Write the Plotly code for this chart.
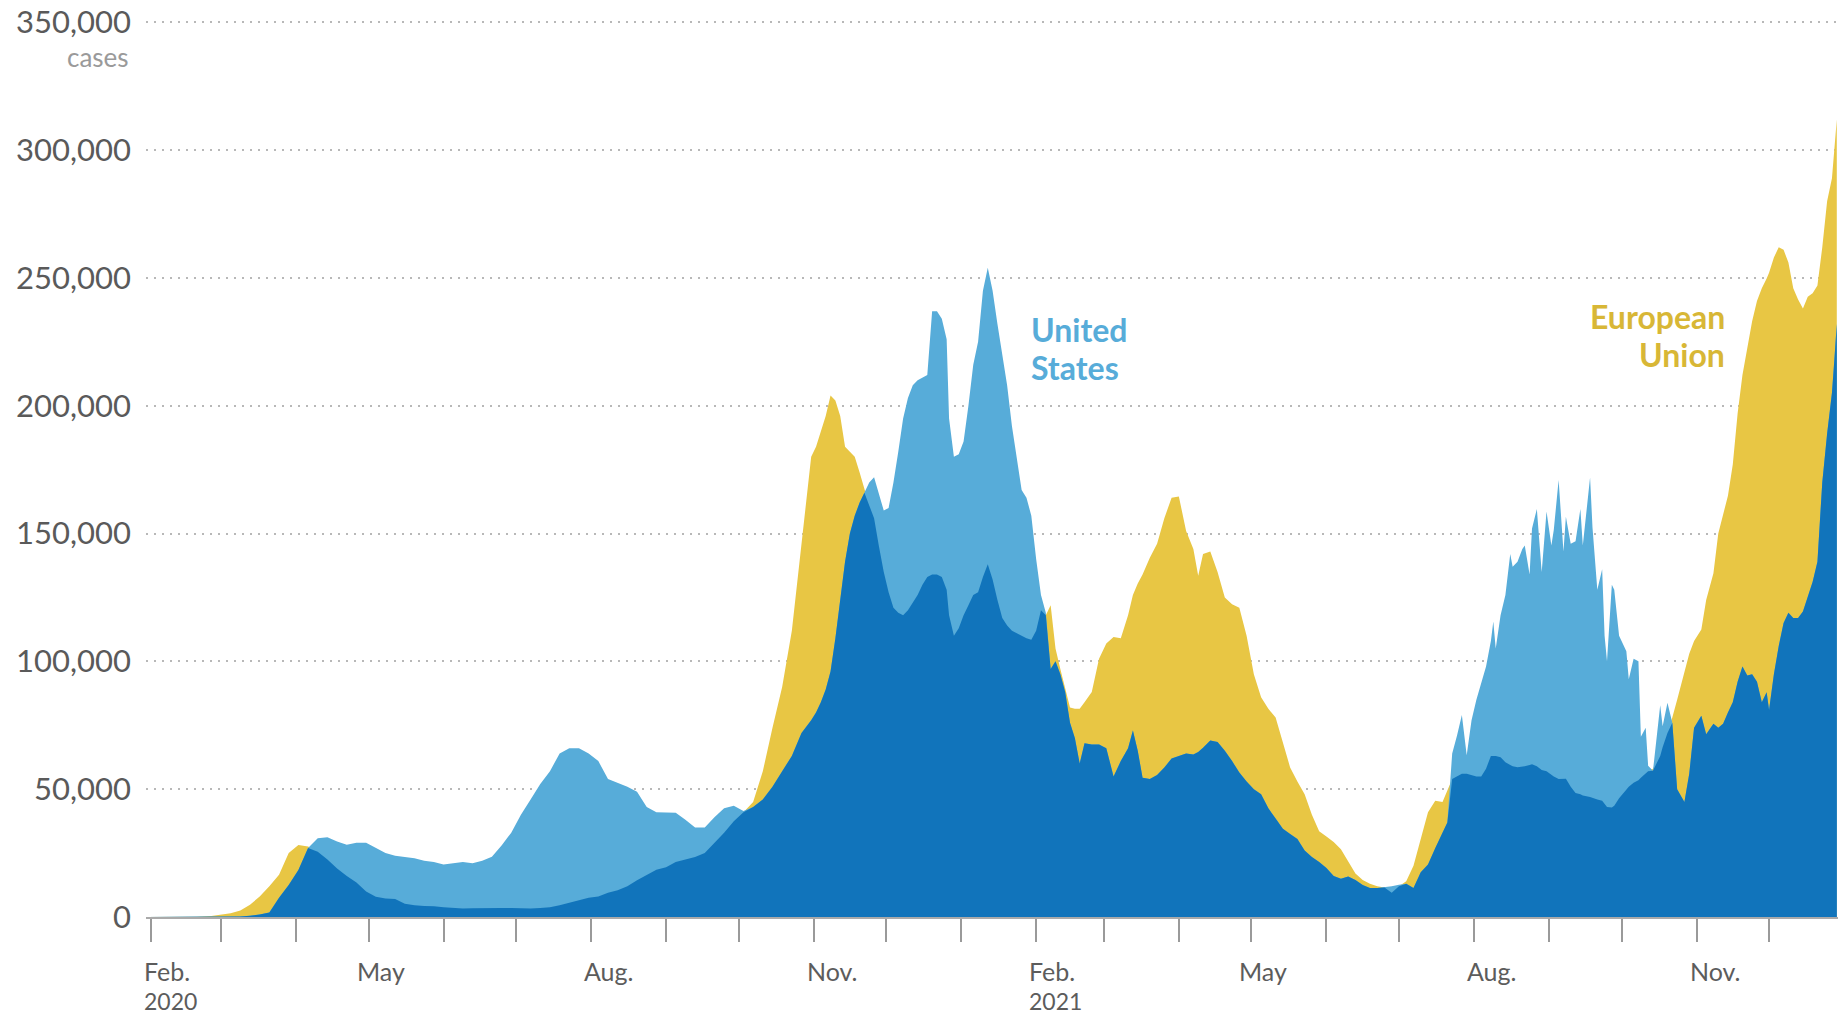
import plotly.graph_objects as go

# ---------------- data (7-day average daily new cases, thousands) ----------------
# Period A: Feb - Oct 2020
dates_a = ["2020-01-30", "2020-02-10", "2020-02-20", "2020-02-26", "2020-03-01", "2020-03-05", "2020-03-09",
           "2020-03-13", "2020-03-17", "2020-03-21", "2020-03-25", "2020-03-29", "2020-04-02", "2020-04-06",
           "2020-04-10", "2020-04-14", "2020-04-18", "2020-04-22", "2020-04-26", "2020-04-30", "2020-05-04",
           "2020-05-08", "2020-05-12", "2020-05-16", "2020-05-20", "2020-05-24", "2020-05-28", "2020-06-01",
           "2020-06-05", "2020-06-09", "2020-06-13", "2020-06-17", "2020-06-21", "2020-06-25", "2020-06-29",
           "2020-07-03", "2020-07-07", "2020-07-11", "2020-07-15", "2020-07-19", "2020-07-23", "2020-07-27",
           "2020-07-31", "2020-08-04", "2020-08-08", "2020-08-12", "2020-08-16", "2020-08-20", "2020-08-24",
           "2020-08-28", "2020-09-01", "2020-09-05", "2020-09-09", "2020-09-13", "2020-09-17", "2020-09-21",
           "2020-09-25", "2020-09-29", "2020-10-03", "2020-10-07", "2020-10-11", "2020-10-15", "2020-10-19",
           "2020-10-23", "2020-10-27", "2020-10-31"]
eu_a = [0, 0, 0.1, 0.4, 0.8, 1.5, 2.5, 4.8, 8, 12, 16.5, 25, 28.2, 27.6, 25.5, 22.5, 19, 16, 13.5, 10,
        7.9, 7.2, 7, 5.2, 4.6, 4.3, 4.2, 3.8, 3.5, 3.3, 3.4, 3.5, 3.5, 3.5, 3.5, 3.4, 3.3, 3.5, 3.8, 4.6,
        5.6, 6.5, 7.5, 8, 9.5, 10.5, 12, 14.4, 16.5, 18.5, 19.5, 21.5, 22.5, 23.5, 25, 29, 33, 37.5, 41, 45,
        57, 74, 90, 112, 147, 180]
us_a = [0, 0, 0, 0, 0.05, 0.1, 0.2, 0.5, 1.0, 1.8, 7.5, 12.5, 18.4, 27, 30.8, 31.2, 29.5, 28.3, 29, 29,
        27, 25, 24, 23.5, 23, 22, 21.5, 20.5, 21, 21.5, 21, 22, 23.6, 28, 33, 40, 46, 52, 57, 64,
        66, 66, 64, 61, 54, 52.5, 51, 49, 43, 41, 41, 40.8, 38, 35, 35, 39, 42.5, 43.5, 41.5, 43,
        46, 51, 57, 63, 72, 77]

# Period B: Nov 2020 - Feb 2021
dates_b = ["2020-11-02", "2020-11-04", "2020-11-06", "2020-11-08", "2020-11-10", "2020-11-12", "2020-11-14",
           "2020-11-16", "2020-11-18", "2020-11-20", "2020-11-22", "2020-11-24", "2020-11-26", "2020-11-28",
           "2020-11-30", "2020-12-02", "2020-12-04", "2020-12-06", "2020-12-08", "2020-12-10", "2020-12-12",
           "2020-12-14", "2020-12-16", "2020-12-18", "2020-12-20", "2020-12-22", "2020-12-24", "2020-12-26",
           "2020-12-27", "2020-12-29", "2020-12-31", "2021-01-02", "2021-01-04", "2021-01-06", "2021-01-08",
           "2021-01-10", "2021-01-12", "2021-01-14", "2021-01-16", "2021-01-18", "2021-01-20", "2021-01-22",
           "2021-01-24", "2021-01-26", "2021-01-28", "2021-01-30", "2021-02-01", "2021-02-03", "2021-02-05",
           "2021-02-07", "2021-02-09", "2021-02-11", "2021-02-13", "2021-02-15", "2021-02-17", "2021-02-19",
           "2021-02-21"]
eu_b = [184, 190, 196, 204, 202, 196, 184, 182, 180, 174, 167, 161, 156, 145, 135, 127, 121, 119, 118, 120,
        123, 126, 130, 133, 134, 134, 133, 128, 118, 110, 113, 118, 122, 126, 127, 133, 138, 132, 124, 117,
        114, 112, 111, 110, 109, 108.5, 112, 120, 118, 122, 105, 97, 90, 82, 81.5, 81.5, 84]
us_b = [80, 84, 89, 96, 109, 125, 139, 150, 157, 162, 166, 170, 172, 165, 159, 160, 170, 182, 195, 203,
        208, 210, 211, 212, 237, 237, 234, 226, 195, 180, 181, 186, 200, 216, 225, 245, 254, 245, 232, 220,
        208, 192, 180, 167, 164, 157, 140, 126, 119, 97, 100, 95, 88, 76, 70, 60, 68]

# Period C: Feb - Jul 2021
dates_c = ["2021-02-24", "2021-02-27", "2021-03-02", "2021-03-05", "2021-03-08", "2021-03-11", "2021-03-13",
           "2021-03-15", "2021-03-17", "2021-03-20", "2021-03-23", "2021-03-26", "2021-03-29", "2021-04-01",
           "2021-04-04", "2021-04-07", "2021-04-09", "2021-04-11", "2021-04-14", "2021-04-17", "2021-04-20",
           "2021-04-23", "2021-04-26", "2021-04-29", "2021-05-02", "2021-05-05", "2021-05-08", "2021-05-11",
           "2021-05-14", "2021-05-17", "2021-05-20", "2021-05-23", "2021-05-26", "2021-05-29", "2021-06-01",
           "2021-06-04", "2021-06-07", "2021-06-10", "2021-06-13", "2021-06-16", "2021-06-19", "2021-06-22",
           "2021-06-25", "2021-06-28", "2021-07-01", "2021-07-04", "2021-07-07", "2021-07-10", "2021-07-13",
           "2021-07-16", "2021-07-19", "2021-07-21"]
eu_c = [88, 101, 107, 109.5, 109, 118, 126, 130.5, 134, 140.5, 146, 156, 164, 164.5, 151, 144, 133.5, 142,
        143, 135, 125, 122.3, 121, 110, 95, 86, 81.5, 78, 68, 58.5, 53, 48, 40, 33.5, 31.5, 29.3, 26.5, 21.5,
        17, 14.5, 13, 12, 11.5, 9.5, 12, 14, 20, 30.5, 41, 45.5, 45, 49.5]
us_c = [67.5, 67.5, 66, 55, 61, 66, 73, 65, 54.5, 54, 55.5, 58.5, 62, 63, 64, 63.6, 64.5, 66.2, 69, 68.5,
        65, 61, 56.5, 53, 50, 48, 42.5, 38.5, 34.5, 32.5, 30.5, 26, 23.5, 21.5, 19.2, 16, 15, 15.8, 14.5,
        12.5, 11.3, 11.3, 11.6, 12, 12.6, 13, 11.3, 17.5, 20.5, 27, 33, 37]

# Period D: Jul - Dec 2021
dates_d = ["2021-07-23", "2021-07-25", "2021-07-27", "2021-07-29", "2021-07-31", "2021-08-02", "2021-08-04",
           "2021-08-06", "2021-08-08", "2021-08-09", "2021-08-10", "2021-08-12", "2021-08-14", "2021-08-16",
           "2021-08-17", "2021-08-19", "2021-08-21", "2021-08-22", "2021-08-24", "2021-08-25", "2021-08-27",
           "2021-08-29", "2021-08-31", "2021-09-02", "2021-09-03", "2021-09-05", "2021-09-07", "2021-09-08",
           "2021-09-10", "2021-09-12", "2021-09-14", "2021-09-15", "2021-09-18", "2021-09-19", "2021-09-21",
           "2021-09-23", "2021-09-24", "2021-09-25", "2021-09-27", "2021-09-28", "2021-09-30", "2021-10-03",
           "2021-10-04", "2021-10-06", "2021-10-08", "2021-10-09", "2021-10-11", "2021-10-12", "2021-10-14",
           "2021-10-17", "2021-10-18", "2021-10-20", "2021-10-22", "2021-10-24", "2021-10-27", "2021-10-29",
           "2021-10-31", "2021-11-03", "2021-11-05", "2021-11-08", "2021-11-10", "2021-11-12", "2021-11-14",
           "2021-11-16", "2021-11-18", "2021-11-20", "2021-11-22", "2021-11-24", "2021-11-26", "2021-11-28",
           "2021-11-30", "2021-12-01", "2021-12-03", "2021-12-05", "2021-12-07", "2021-12-09", "2021-12-11",
           "2021-12-13", "2021-12-15", "2021-12-17", "2021-12-19", "2021-12-21", "2021-12-23", "2021-12-25",
           "2021-12-27", "2021-12-28", "2021-12-29"]
eu_d = [54, 55, 56, 56, 55.5, 55, 55, 58, 63, 63, 63, 62.5, 60.5, 59.5, 59, 58.6, 58.8, 59, 59.5, 59.8,
        59, 57.5, 57, 55.5, 55, 54, 54.1, 54.1, 51, 48.5, 48, 47.5, 46.9, 46.5, 46, 45.5, 44, 43, 42.8, 43.5,
        46.5, 50, 51, 52.5, 53.5, 54.5, 56, 57, 58, 63, 66.4, 72, 78, 85, 96, 103, 108, 112.5, 124, 134.5,
        150, 158, 164.8, 177, 197, 212, 222, 233, 241, 246, 249.8, 252, 258, 262, 261, 256, 246, 241.6, 238,
        242.6, 244, 247, 262, 280, 289, 300, 312]
us_d = [64, 71, 79, 63.3, 77, 85, 92, 98, 108, 115.6, 105, 118, 126, 142, 137, 139, 144, 145.3, 134, 152,
        159.6, 135, 158.6, 145.3, 151.4, 170.9, 143, 156.6, 146, 147, 159.6, 145.3, 171.9, 152.5, 128, 136,
        110, 100, 130, 128, 110, 104, 93, 101, 100, 70.5, 74, 59.2, 57.2, 82.8, 74.6, 83.8, 76, 50, 45, 56,
        74, 78.7, 71.5, 75.6, 74, 75.6, 80, 84, 92, 98, 94.5, 95, 92, 84, 87.9, 81, 95, 106, 115, 119, 117,
        117, 119.5, 125, 131, 139, 170, 189, 205, 218, 232]

y_ticks = [0, 50000, 100000, 150000, 200000, 250000, 300000, 350000]
y_ticktext = ["0", "50,000", "100,000", "150,000", "200,000", "250,000", "300,000", "350,000"]
month_ticks = ["2020-02-01", "2020-03-01", "2020-04-01", "2020-05-01", "2020-06-01", "2020-07-01",
               "2020-08-01", "2020-09-01", "2020-10-01", "2020-11-01", "2020-12-01", "2021-01-01",
               "2021-02-01", "2021-03-01", "2021-04-01", "2021-05-01", "2021-06-01", "2021-07-01",
               "2021-08-01", "2021-09-01", "2021-10-01", "2021-11-01", "2021-12-01"]
month_labels = {"2020-02-01": "Feb.", "2020-05-01": "May", "2020-08-01": "Aug.",
                "2020-11-01": "Nov.", "2021-02-01": "Feb.", "2021-05-01": "May",
                "2021-08-01": "Aug.", "2021-11-01": "Nov."}
year_labels = {"2020-02-01": "2020", "2021-02-01": "2021"}

# ---------------- build ----------------
dates = dates_a + dates_b + dates_c + dates_d
eu = [v * 1000 for v in eu_a + eu_b + eu_c + eu_d]
us = [v * 1000 for v in us_a + us_b + us_c + us_d]
assert len(dates) == len(eu) == len(us)
both = [min(a, b) for a, b in zip(eu, us)]

YELLOW = "#e8c644"
LIGHT = "#57acd9"
DARK = "#1174bb"
FONT = "Lato, 'Open Sans', sans-serif"

fig = go.Figure()
fig.add_trace(go.Scatter(x=dates, y=eu, mode="lines", fill="tozeroy", fillcolor=YELLOW,
                         line=dict(width=0, color=YELLOW), name="European Union", hoverinfo="skip"))
fig.add_trace(go.Scatter(x=dates, y=us, mode="lines", fill="tozeroy", fillcolor=LIGHT,
                         line=dict(width=0, color=LIGHT), name="United States", hoverinfo="skip"))
fig.add_trace(go.Scatter(x=dates, y=both, mode="lines", fill="tozeroy", fillcolor=DARK,
                         line=dict(width=0, color=DARK), name="both", hoverinfo="skip"))

annotations = []
for d, t in month_labels.items():
    shift = -14 if t == "May" else -9
    annotations.append(dict(x=d, y=0, xref="x", yref="paper", text=t, showarrow=False,
                            xanchor="left", yanchor="middle", align="left", xshift=shift, yshift=-54,
                            font=dict(family=FONT, size=25, color="#5c5c5c")))
for d, t in year_labels.items():
    annotations.append(dict(x=d, y=0, xref="x", yref="paper", text=t, showarrow=False,
                            xanchor="left", yanchor="middle", align="left", xshift=-9, yshift=-84,
                            font=dict(family=FONT, size=23, color="#5c5c5c")))
annotations.append(dict(x=0, y=350000, xref="paper", yref="y", text="cases", showarrow=False,
                        xanchor="right", yanchor="middle", xshift=-15, yshift=-35,
                        font=dict(family=FONT, size=26, color="#9a9a9a")))
# series labels, one annotation per line
for txt, yv in (("United", 229700), ("States", 215000)):
    annotations.append(dict(x="2021-01-29", y=yv, xref="x", yref="y", text=txt, showarrow=False,
                            xanchor="left", yanchor="middle",
                            font=dict(family=FONT, size=32, color="#57acd9", weight="bold")))
for txt, yv in (("European", 235000), ("Union", 220000)):
    annotations.append(dict(x="2021-11-12", y=yv, xref="x", yref="y", text=txt, showarrow=False,
                            xanchor="right", yanchor="middle", xshift=4,
                            font=dict(family=FONT, size=32, color="#d8b736", weight="bold")))

# the page body adds an 8px offset, so the figure is 8px smaller and margins shifted
fig.update_layout(
    width=1839, height=1007,
    margin=dict(l=138, r=9, t=13, b=98),
    paper_bgcolor="white", plot_bgcolor="white",
    showlegend=False, hovermode=False,
    annotations=annotations,
    xaxis=dict(type="date", range=["2020-01-30", "2021-12-29 12:00"], tickvals=month_ticks,
               ticktext=[""] * len(month_ticks), ticks="outside", ticklen=23, tickwidth=1.5,
               tickcolor="#9a9a9a", showline=True, linecolor="#aaaaaa", linewidth=1.5,
               showgrid=False, zeroline=False, fixedrange=True, automargin=False),
    yaxis=dict(range=[0, 350500], tickvals=y_ticks, ticktext=y_ticktext, ticks="",
               tickfont=dict(family=FONT, size=31, color="#5a5a5a"), ticklabelstandoff=14,
               ticklabeloverflow="allow",
               showgrid=True, gridcolor="#b8b8b8", gridwidth=1.5, griddash="2px,6px",
               showline=False, zeroline=False, fixedrange=True, automargin=False),
)

fig.write_html("out.html")
